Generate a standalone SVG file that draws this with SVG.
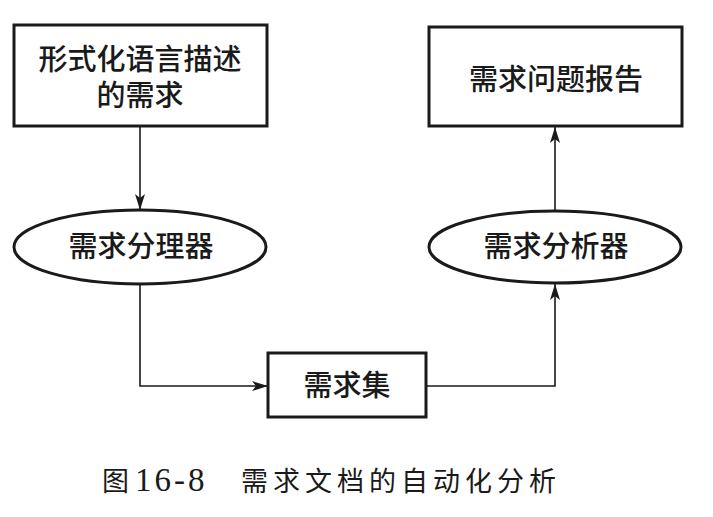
<svg xmlns="http://www.w3.org/2000/svg" width="713" height="517" viewBox="0 0 713 517">
<style>
.shape{fill:#fff;stroke:#1a1a1a;stroke-width:3}
.lbl{font-family:"Liberation Serif","Noto Sans CJK SC",serif;font-size:29px;font-weight:500;fill:#1a1a1a;text-anchor:middle}
.conn{fill:none;stroke:#1a1a1a;stroke-width:1.6}
.cap{font-family:"Liberation Serif","Noto Sans CJK SC",serif;font-size:27px;fill:#1a1a1a}
</style>
<defs>
<marker id="arr" viewBox="0 0 16 10" refX="16" refY="5" markerWidth="16" markerHeight="10" markerUnits="userSpaceOnUse" orient="auto">
<path d="M0,0 L16,5 L0,10 L4,5 Z" fill="#1a1a1a"/>
</marker>
</defs>
<rect width="713" height="517" fill="#fff"/>
<g id="connectors">
<line class="conn" x1="140" y1="126" x2="140" y2="210" marker-end="url(#arr)"/>
<polyline class="conn" points="140,284 140,386 268,386" marker-end="url(#arr)"/>
<polyline class="conn" points="426,386 555,386 555,284" marker-end="url(#arr)"/>
<line class="conn" x1="555" y1="211" x2="555" y2="127" marker-end="url(#arr)"/>
</g>
<g id="node-formal">
<rect class="shape" x="14" y="25" width="253" height="101"/>
<text class="lbl" x="140" y="70">形式化语言描述</text>
<text class="lbl" x="140" y="106">的需求</text>
</g>
<g id="node-parser">
<ellipse class="shape" cx="140" cy="247" rx="126" ry="37"/>
<text class="lbl" x="141" y="257">需求分理器</text>
</g>
<g id="node-report">
<rect class="shape" x="429" y="27" width="253" height="99"/>
<text class="lbl" x="556" y="90">需求问题报告</text>
</g>
<g id="node-analyzer">
<ellipse class="shape" cx="555" cy="247" rx="126" ry="36"/>
<text class="lbl" x="556" y="257">需求分析器</text>
</g>
<g id="node-set">
<rect class="shape" x="268" y="353" width="158" height="64"/>
<text class="lbl" x="347" y="396">需求集</text>
</g>
<g id="caption">
<text class="cap" x="102" y="491">图<tspan x="135" font-size="33" letter-spacing="3">16-8</tspan><tspan x="241" letter-spacing="5">需求文档的自动化分析</tspan></text>
</g>
</svg>
